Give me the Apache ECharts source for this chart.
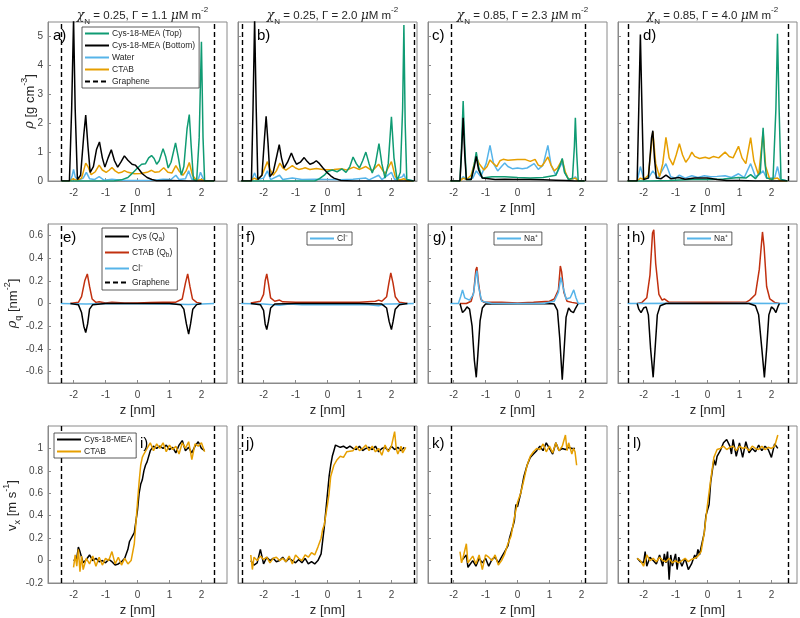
<!DOCTYPE html>
<html><head><meta charset="utf-8">
<script src="https://cdn.jsdelivr.net/npm/echarts@6/dist/echarts.min.js"></script>
<style>html,body{margin:0;padding:0;background:#fff}#c{width:800px;height:618px}</style>
</head><body><div id="c"></div>
<script>
// ---------- tick values ----------
const zTicks = [-2, -1, 0, 1, 2];
const rhoTicks = [0, 1, 2, 3, 4, 5];
const qTicks = [-0.6, -0.4, -0.2, 0, 0.2, 0.4, 0.6];
const vTicks = [-0.2, 0, 0.2, 0.4, 0.6, 0.8, 1];

// ---------- column titles ----------
const chiN = ['0.25', '0.25', '0.85', '0.85'];
const gammaVals = ['1.1', '2.0', '2.3', '4.0'];
const panelLetters = ['a)', 'b)', 'c)', 'd)', 'e)', 'f)', 'g)', 'h)', 'i)', 'j)', 'k)', 'l)'];
// graphene wall positions per column [left, right]
const graphene = [[-2.38, 2.40], [-2.68, 2.70], [-2.08, 2.11], [-2.48, 2.53]];

// ---------- row 1: mass density (g cm^-3) ----------
const aTop = [[-2.38,0],[-0.75,0],[-0.5,0.04],[-0.3,0.12],[-0.15,0.28],[0,0.45],[0.13,0.58],[0.25,0.6],[0.35,0.8],[0.44,0.88],[0.52,0.78],[0.6,0.58],[0.68,0.7],[0.8,1.12],[0.88,0.85],[0.96,0.45],[1.05,0.65],[1.19,1.32],[1.28,0.8],[1.37,0.2],[1.45,0.5],[1.55,1.8],[1.62,2.3],[1.68,1.2],[1.75,0.05],[1.85,0],[1.93,1.5],[2.0,4.82],[2.05,1.5],[2.1,0],[2.4,0]];
const aBottom = [[-2.38,0],[-2.13,0],[-2.06,2.5],[-2.0,5.6],[-1.95,2.5],[-1.88,0.05],[-1.78,0.2],[-1.68,1.6],[-1.62,2.28],[-1.55,1.2],[-1.48,0.3],[-1.38,0.5],[-1.28,1.1],[-1.19,1.35],[-1.1,0.8],[-1.02,0.48],[-0.92,0.8],[-0.82,1.08],[-0.72,0.7],[-0.62,0.48],[-0.52,0.65],[-0.41,0.87],[-0.3,0.72],[-0.17,0.58],[-0.07,0.55],[0.05,0.4],[0.15,0.25],[0.3,0.12],[0.45,0.05],[0.6,0.01],[1.0,0.02],[1.6,0],[2.4,0]];
const aWater = [[-2.38,0],[-2.1,0],[-2.04,0.2],[-2.0,0.4],[-1.95,0.15],[-1.85,0.02],[-1.7,0.1],[-1.6,0.3],[-1.5,0.08],[-1.35,0.05],[-1.2,0.15],[-1.05,0.03],[-0.8,0.06],[-0.5,0.03],[-0.2,0.02],[0.2,0.02],[0.5,0.03],[0.8,0.06],[1.05,0.05],[1.2,0.2],[1.3,0.05],[1.5,0.08],[1.6,0.35],[1.7,0.05],[1.9,0.05],[1.97,0.3],[2.02,0.33],[2.08,0.02],[2.4,0]];
const aCtab = [[-2.38,0],[-2.1,0],[-2.02,0.08],[-1.9,0.02],[-1.75,0.1],[-1.62,0.62],[-1.55,0.5],[-1.45,0.22],[-1.32,0.32],[-1.2,0.55],[-1.1,0.38],[-0.98,0.3],[-0.88,0.38],[-0.8,0.47],[-0.7,0.35],[-0.6,0.28],[-0.5,0.3],[-0.41,0.36],[-0.3,0.3],[-0.1,0.25],[0.1,0.26],[0.3,0.3],[0.44,0.37],[0.55,0.3],[0.68,0.32],[0.82,0.46],[0.95,0.3],[1.08,0.28],[1.2,0.53],[1.3,0.35],[1.42,0.2],[1.52,0.35],[1.62,0.64],[1.72,0.2],[1.85,0.02],[2.0,0.05],[2.1,0],[2.4,0]];

const bTop = [[-2.7,0],[-0.4,0],[-0.25,0.08],[-0.1,0.2],[0,0.33],[0.15,0.38],[0.3,0.32],[0.45,0.42],[0.58,0.3],[0.7,0.5],[0.8,0.83],[0.9,0.6],[1.0,0.45],[1.1,0.7],[1.2,1.0],[1.3,0.6],[1.4,0.28],[1.5,0.6],[1.61,1.29],[1.7,0.6],[1.8,0.1],[1.9,0.6],[2.0,2.22],[2.08,0.8],[2.18,0.02],[2.28,0.3],[2.35,2.5],[2.39,5.4],[2.43,2],[2.48,0.05],[2.7,0]];
const bBottom = [[-2.7,0],[-2.38,0],[-2.33,2.5],[-2.28,5.6],[-2.23,2.5],[-2.18,0.05],[-2.05,0.2],[-1.97,1.5],[-1.92,2.24],[-1.86,1.3],[-1.8,0.15],[-1.7,0.3],[-1.58,0.9],[-1.51,1.26],[-1.44,0.8],[-1.36,0.45],[-1.25,0.65],[-1.13,0.97],[-1.05,0.75],[-0.97,0.58],[-0.85,0.65],[-0.73,0.81],[-0.64,0.68],[-0.55,0.58],[-0.45,0.62],[-0.35,0.7],[-0.25,0.6],[-0.14,0.45],[0,0.28],[0.1,0.18],[0.2,0.1],[0.42,0.02],[0.8,0],[2.7,0]];
const bWater = [[-2.7,0],[-2.4,0],[-2.33,0.15],[-2.28,0.28],[-2.2,0.05],[-2.0,0.1],[-1.88,0.35],[-1.78,0.05],[-1.5,0.2],[-1.4,0.05],[-1.1,0.1],[-0.8,0.05],[-0.4,0.06],[0,0.05],[0.4,0.04],[0.8,0.06],[1.2,0.1],[1.3,0.04],[1.6,0.2],[1.7,0.05],[2.0,0.3],[2.1,0.05],[2.35,0.15],[2.39,0.25],[2.45,0.05],[2.7,0]];
const bCtab = [[-2.7,0],[-2.4,0],[-2.3,0.1],[-2.2,0.05],[-2.05,0.2],[-1.88,0.67],[-1.8,0.4],[-1.7,0.2],[-1.6,0.35],[-1.49,0.62],[-1.4,0.45],[-1.3,0.38],[-1.2,0.45],[-1.1,0.53],[-1.0,0.45],[-0.9,0.4],[-0.8,0.42],[-0.7,0.46],[-0.55,0.4],[-0.35,0.43],[-0.15,0.4],[0,0.39],[0.2,0.4],[0.45,0.42],[0.6,0.38],[0.82,0.48],[1.0,0.4],[1.2,0.5],[1.4,0.35],[1.6,0.58],[1.8,0.25],[2.0,0.67],[2.12,0.15],[2.25,0.03],[2.39,0.08],[2.5,0],[2.7,0]];

const cTop = [[-2.1,0],[-1.8,0],[-1.75,1.2],[-1.7,2.77],[-1.65,1.2],[-1.6,0.05],[-1.45,0.05],[-1.35,0.6],[-1.29,1.0],[-1.22,0.5],[-1.1,0.1],[-0.8,0.15],[-0.4,0.15],[0,0.12],[0.4,0.1],[0.8,0.12],[1.2,0.2],[1.35,0.6],[1.4,0.78],[1.47,0.3],[1.6,0.05],[1.72,0.1],[1.78,1.2],[1.81,2.19],[1.85,1],[1.9,0],[2.1,0]];
const cBottom = [[-2.1,0],[-1.8,0],[-1.75,1],[-1.7,2.19],[-1.65,0.9],[-1.6,0.05],[-1.45,0.05],[-1.35,0.5],[-1.29,0.85],[-1.22,0.4],[-1.1,0.1],[-0.9,0.08],[-0.7,0.05],[-0.4,0.06],[0,0.05],[0.4,0.05],[0.8,0.04],[1.2,0.03],[1.5,0.02],[1.8,0],[2.1,0]];
const cWater = [[-2.1,0],[-1.8,0],[-1.7,0.15],[-1.6,0.05],[-1.4,0.1],[-1.29,0.35],[-1.15,0.15],[-0.98,0.6],[-0.86,1.23],[-0.75,0.6],[-0.62,0.35],[-0.5,0.5],[-0.4,0.62],[-0.3,0.5],[-0.15,0.42],[0,0.45],[0.15,0.42],[0.3,0.45],[0.52,0.6],[0.65,0.4],[0.8,0.55],[0.95,1.23],[1.05,0.55],[1.2,0.2],[1.4,0.65],[1.48,0.3],[1.6,0.05],[1.72,0.05],[1.81,0.15],[1.9,0],[2.1,0]];
const cCtab = [[-2.1,0],[-1.8,0],[-1.7,0.1],[-1.6,0.05],[-1.45,0.2],[-1.29,0.85],[-1.2,0.6],[-1.05,0.38],[-0.95,0.5],[-0.86,0.73],[-0.75,0.6],[-0.65,0.5],[-0.55,0.7],[-0.45,0.75],[-0.3,0.72],[0,0.74],[0.25,0.74],[0.4,0.68],[0.55,0.75],[0.65,0.55],[0.75,0.5],[0.85,0.65],[0.95,0.83],[1.05,0.55],[1.15,0.35],[1.25,0.45],[1.4,0.75],[1.5,0.3],[1.6,0.05],[1.81,0.1],[1.9,0],[2.1,0]];

const dTop = [[-2.5,0],[-1.8,0],[-1.2,0.02],[-0.5,0.05],[0,0.05],[0.5,0.07],[0.97,0.12],[1.2,0.1],[1.35,0.22],[1.5,0.08],[1.65,0.3],[1.74,1.84],[1.79,0.7],[1.85,0.1],[2.05,0.05],[2.14,2.5],[2.19,5.09],[2.24,2.5],[2.3,0.05],[2.5,0]];
const dBottom = [[-2.5,0],[-2.2,0],[-2.15,2.5],[-2.1,5.07],[-2.05,2.5],[-2.0,0.05],[-1.85,0.1],[-1.75,1.5],[-1.71,1.74],[-1.66,0.8],[-1.6,0.1],[-1.45,0.08],[-1.3,0.2],[-1.15,0.08],[-0.9,0.12],[-0.7,0.06],[-0.4,0.1],[0,0.1],[0.3,0.05],[0.6,0.02],[1.0,0.02],[1.5,0],[2.5,0]];
const dWater = [[-2.5,0],[-2.2,0],[-2.1,0.5],[-2.0,0.1],[-1.85,0.1],[-1.71,0.35],[-1.55,0.1],[-1.3,0.6],[-1.15,0.15],[-1.0,0.1],[-0.88,0.2],[-0.7,0.1],[-0.49,0.18],[-0.3,0.12],[-0.1,0.18],[0.1,0.15],[0.3,0.16],[0.55,0.18],[0.75,0.12],[0.97,0.25],[1.15,0.12],[1.35,0.6],[1.5,0.15],[1.65,0.25],[1.74,0.35],[1.85,0.1],[2.1,0.1],[2.19,0.5],[2.28,0.05],[2.5,0]];
const dCtab = [[-2.5,0],[-2.2,0],[-2.1,0.1],[-2.0,0.05],[-1.85,0.2],[-1.71,1.7],[-1.62,0.6],[-1.5,0.15],[-1.4,0.6],[-1.3,1.51],[-1.2,0.8],[-1.08,0.55],[-0.98,0.9],[-0.88,1.29],[-0.78,0.9],[-0.68,0.65],[-0.58,0.8],[-0.49,1.0],[-0.4,0.85],[-0.25,0.78],[-0.07,0.82],[0.05,0.78],[0.19,0.85],[0.35,0.8],[0.55,1.0],[0.68,0.85],[0.8,0.8],[0.97,1.2],[1.08,0.8],[1.2,0.6],[1.35,1.5],[1.45,0.7],[1.6,0.2],[1.74,1.7],[1.82,0.5],[1.95,0.05],[2.19,0.1],[2.3,0],[2.5,0]];

// ---------- row 2: charge density (nm^-2) ----------
const eCys = [[-2.1,0],[-1.85,-0.01],[-1.75,-0.08],[-1.68,-0.2],[-1.62,-0.255],[-1.56,-0.18],[-1.5,-0.05],[-1.4,-0.01],[-1.0,0],[1.0,0],[1.35,-0.01],[1.45,-0.05],[1.53,-0.18],[1.6,-0.27],[1.66,-0.18],[1.73,-0.05],[1.85,-0.01],[2.0,0]];
const eCtab = [[-2.1,0],[-1.85,0.01],[-1.75,0.06],[-1.65,0.2],[-1.57,0.26],[-1.5,0.15],[-1.42,0.04],[-1.3,0.01],[-1.2,0.015],[-1.0,0.005],[-0.8,0.012],[-0.4,0.005],[0,0.005],[0.4,0.008],[0.8,0.01],[1.2,0.012],[1.4,0.04],[1.5,0.18],[1.57,0.26],[1.64,0.15],[1.72,0.04],[1.85,0.01],[2.0,0]];
const eIon = [[-2.4,0],[-1.6,-0.005],[-1,0],[0,-0.003],[1.0,-0.004],[1.6,-0.008],[2.4,0]];

const fCys = [[-2.4,0],[-2.1,-0.01],[-2.0,-0.06],[-1.95,-0.18],[-1.9,-0.23],[-1.85,-0.16],[-1.78,-0.04],[-1.65,-0.005],[-1.0,0],[1.0,0],[1.7,-0.005],[1.85,-0.04],[1.93,-0.16],[2.0,-0.23],[2.05,-0.16],[2.12,-0.05],[2.25,-0.01],[2.5,0]];
const fCtab = [[-2.4,0.005],[-2.1,0.02],[-2.0,0.08],[-1.95,0.2],[-1.9,0.26],[-1.85,0.18],[-1.78,0.05],[-1.65,0.02],[-1.5,0.03],[-1.4,0.015],[-1.0,0.01],[-0.5,0.01],[0,0.01],[0.5,0.012],[1.0,0.01],[1.5,0.02],[1.6,0.03],[1.7,0.02],[1.85,0.06],[1.92,0.18],[1.98,0.27],[2.05,0.18],[2.12,0.06],[2.25,0.01],[2.5,0]];
const fIon = [[-2.7,0],[-2.0,-0.005],[-1.7,-0.01],[-1.5,-0.015],[-1.2,-0.005],[-0.8,-0.01],[-0.4,-0.01],[0,-0.008],[0.4,-0.01],[0.8,-0.01],[1.2,-0.008],[1.6,-0.02],[1.8,-0.005],[2.0,-0.005],[2.7,0]];

const gCys = [[-1.8,0],[-1.75,-0.05],[-1.72,-0.08],[-1.65,-0.06],[-1.58,-0.03],[-1.5,-0.05],[-1.42,-0.2],[-1.35,-0.5],[-1.29,-0.65],[-1.24,-0.45],[-1.17,-0.15],[-1.1,-0.04],[-1.0,-0.005],[1.0,0],[1.15,-0.005],[1.25,-0.06],[1.32,-0.3],[1.4,-0.67],[1.46,-0.4],[1.52,-0.12],[1.6,-0.04],[1.68,-0.07],[1.75,-0.08],[1.82,-0.04],[1.9,0]];
const gCtab = [[-1.8,0],[-1.6,0],[-1.45,0.02],[-1.37,0.1],[-1.3,0.3],[-1.27,0.32],[-1.22,0.18],[-1.15,0.04],[-1.05,0.01],[-0.5,0.01],[0,0.005],[0.5,0.012],[1.0,0.02],[1.15,0.04],[1.28,0.12],[1.34,0.33],[1.38,0.28],[1.45,0.1],[1.55,0.02],[1.7,0.01],[1.9,0]];
const gIon = [[-2.1,0],[-1.85,0],[-1.78,0.06],[-1.72,0.12],[-1.65,0.05],[-1.5,0.03],[-1.38,0.08],[-1.3,0.25],[-1.27,0.29],[-1.22,0.15],[-1.12,0.02],[-0.8,0],[0.8,0],[1.15,0.02],[1.28,0.1],[1.36,0.23],[1.42,0.15],[1.52,0.04],[1.65,0.05],[1.76,0.12],[1.83,0.05],[1.9,0],[2.1,0]];

const hCys = [[-2.2,0],[-2.15,-0.05],[-2.08,-0.08],[-2.0,-0.04],[-1.92,-0.03],[-1.85,-0.1],[-1.78,-0.4],[-1.7,-0.65],[-1.64,-0.4],[-1.57,-0.1],[-1.48,-0.02],[-1.3,0],[1.3,0],[1.5,-0.02],[1.6,-0.1],[1.7,-0.4],[1.78,-0.65],[1.85,-0.4],[1.92,-0.1],[2.0,-0.03],[2.08,-0.05],[2.14,-0.08],[2.2,-0.03],[2.25,0]];
const hCtab = [[-2.2,0],[-2.05,0.01],[-1.9,0.05],[-1.8,0.25],[-1.72,0.62],[-1.68,0.65],[-1.62,0.35],[-1.52,0.08],[-1.42,0.03],[-1.35,0.04],[-1.2,0.01],[-0.8,0.012],[-0.4,0.01],[0,0.01],[0.4,0.012],[0.8,0.01],[1.2,0.01],[1.32,0.03],[1.5,0.08],[1.62,0.3],[1.72,0.63],[1.77,0.5],[1.85,0.15],[1.95,0.04],[2.1,0.01],[2.25,0]];
const hIon = [[-2.5,0],[-1.0,0.002],[0,0],[1.0,0.002],[2.5,0]];

// ---------- row 3: velocity (m s^-1) ----------
const iCys = [[-2.0,0],[-1.9,0.02],[-1.85,0.12],[-1.8,0.08],[-1.7,-0.02],[-1.6,0.01],[-1.5,0.05],[-1.4,0.0],[-1.3,0.02],[-1.2,-0.01],[-1.1,0.0],[-1.0,-0.02],[-0.9,0.01],[-0.8,-0.01],[-0.7,-0.04],[-0.6,-0.03],[-0.5,-0.01],[-0.4,0.02],[-0.3,0.1],[-0.25,0.17],[-0.2,0.18],[-0.1,0.25],[0,0.45],[0.05,0.6],[0.1,0.68],[0.15,0.72],[0.2,0.8],[0.25,0.85],[0.3,0.88],[0.4,0.98],[0.5,1.02],[0.6,1.0],[0.7,1.02],[0.8,1.0],[0.9,1.03],[1.0,0.99],[1.1,1.01],[1.2,0.96],[1.3,1.03],[1.4,1.07],[1.5,0.98],[1.6,1.01],[1.7,0.96],[1.8,1.02],[1.9,1.06],[2.0,1.0],[2.1,0.98]];
const iCtab = [[-2.0,-0.06],[-1.95,0.05],[-1.9,-0.05],[-1.85,0.1],[-1.8,-0.1],[-1.75,0.04],[-1.7,-0.08],[-1.6,0.02],[-1.5,-0.03],[-1.4,0.04],[-1.3,-0.05],[-1.2,0.03],[-1.1,-0.04],[-1.0,0.02],[-0.9,0.0],[-0.8,0.08],[-0.7,-0.03],[-0.6,0.03],[-0.5,-0.04],[-0.4,0.02],[-0.3,-0.03],[-0.2,0.0],[-0.1,0.15],[0,0.52],[0.05,0.7],[0.1,0.85],[0.15,0.92],[0.2,0.95],[0.3,1.0],[0.4,1.05],[0.5,0.98],[0.6,1.04],[0.7,1.0],[0.8,1.05],[0.9,0.97],[1.0,1.03],[1.1,0.99],[1.2,1.02],[1.3,0.95],[1.4,1.05],[1.5,1.0],[1.6,1.06],[1.7,0.9],[1.8,1.04],[1.9,1.02],[2.0,1.05],[2.1,0.97]];

const jCys = [[-2.4,0],[-2.3,-0.04],[-2.2,-0.02],[-2.1,0.1],[-2.0,-0.03],[-1.9,0.03],[-1.8,0.0],[-1.7,0.02],[-1.6,-0.01],[-1.5,0.0],[-1.4,0.03],[-1.3,-0.01],[-1.2,0.02],[-1.1,0.0],[-1.0,-0.02],[-0.9,0.01],[-0.8,-0.02],[-0.7,0.02],[-0.6,-0.03],[-0.5,-0.01],[-0.4,-0.03],[-0.3,0.0],[-0.2,0.06],[-0.1,0.3],[-0.05,0.45],[0,0.6],[0.05,0.75],[0.1,0.85],[0.15,0.93],[0.2,0.98],[0.25,1.03],[0.3,1.02],[0.4,1.01],[0.5,1.02],[0.6,1.0],[0.7,1.02],[0.8,1.0],[0.9,0.99],[1.0,1.02],[1.1,0.98],[1.2,1.0],[1.3,1.01],[1.4,0.99],[1.5,1.02],[1.6,0.97],[1.7,1.0],[1.8,1.01],[1.9,0.98],[2.0,1.02],[2.1,0.99],[2.2,1.01],[2.3,0.98],[2.4,1.01]];
const jCtab = [[-2.4,0.05],[-2.35,-0.08],[-2.3,0.03],[-2.2,0.0],[-2.1,0.04],[-2.0,0.01],[-1.9,0.03],[-1.8,-0.02],[-1.7,0.02],[-1.6,0.03],[-1.5,0.0],[-1.4,0.02],[-1.3,-0.01],[-1.2,0.04],[-1.1,-0.03],[-1.0,0.05],[-0.9,0.02],[-0.8,0.0],[-0.7,0.05],[-0.6,0.03],[-0.5,0.07],[-0.4,0.05],[-0.3,0.12],[-0.2,0.2],[-0.15,0.28],[-0.1,0.32],[0,0.5],[0.05,0.6],[0.1,0.75],[0.2,0.85],[0.3,0.9],[0.4,0.93],[0.5,0.92],[0.6,0.97],[0.8,0.98],[0.9,1.02],[1.0,0.98],[1.1,1.0],[1.2,1.03],[1.3,0.98],[1.4,1.02],[1.5,0.97],[1.6,1.0],[1.7,0.94],[1.8,1.03],[1.9,0.97],[2.0,1.02],[2.1,1.15],[2.15,1.0],[2.2,0.95],[2.3,1.02],[2.35,0.96],[2.45,1.01]];

const kCys = [[-1.75,0.0],[-1.7,-0.01],[-1.6,0.05],[-1.55,-0.06],[-1.5,-0.04],[-1.4,0.0],[-1.3,-0.05],[-1.2,0.02],[-1.1,-0.02],[-1.0,0.02],[-0.9,-0.05],[-0.8,0.01],[-0.7,0.03],[-0.6,-0.02],[-0.5,0.03],[-0.4,0.08],[-0.3,0.13],[-0.25,0.2],[-0.2,0.25],[-0.1,0.35],[-0.05,0.5],[0,0.48],[0.1,0.6],[0.2,0.75],[0.3,0.85],[0.4,0.92],[0.5,0.95],[0.6,0.98],[0.7,1.02],[0.8,0.98],[0.9,1.05],[1.0,1.0],[1.1,0.95],[1.2,1.05],[1.3,0.98],[1.4,1.0],[1.5,0.99],[1.6,1.01],[1.7,1.0],[1.8,1.0]];
const kCtab = [[-1.8,0.08],[-1.75,-0.02],[-1.7,0.03],[-1.6,0.15],[-1.55,-0.02],[-1.5,0.0],[-1.4,0.04],[-1.3,-0.03],[-1.2,0.05],[-1.1,-0.08],[-1.0,0.05],[-0.9,0.03],[-0.8,0.0],[-0.7,0.05],[-0.6,-0.04],[-0.5,0.0],[-0.4,0.06],[-0.3,0.15],[-0.2,0.22],[-0.1,0.38],[0,0.52],[0.1,0.6],[0.2,0.72],[0.3,0.85],[0.4,0.93],[0.5,0.97],[0.6,1.0],[0.7,0.99],[0.8,1.04],[0.9,0.97],[1.0,1.02],[1.1,0.96],[1.2,1.05],[1.3,0.98],[1.4,1.02],[1.5,1.12],[1.55,0.98],[1.6,1.05],[1.7,0.95],[1.75,1.0],[1.8,0.97],[1.85,0.85]];

const lCys = [[-2.2,0.02],[-2.1,-0.01],[-2.0,-0.02],[-1.95,0.08],[-1.9,-0.05],[-1.8,0.03],[-1.7,0.0],[-1.6,-0.03],[-1.5,0.05],[-1.4,-0.05],[-1.35,0.06],[-1.3,-0.02],[-1.25,0.08],[-1.2,-0.17],[-1.15,0.05],[-1.1,-0.05],[-1.0,0.06],[-0.95,-0.08],[-0.9,0.03],[-0.8,-0.05],[-0.7,0.02],[-0.6,-0.08],[-0.5,-0.03],[-0.4,0.05],[-0.35,0.02],[-0.3,0.1],[-0.25,0.05],[-0.2,0.12],[-0.1,0.25],[-0.05,0.4],[0,0.45],[0.05,0.5],[0.1,0.7],[0.15,0.8],[0.2,0.9],[0.25,0.85],[0.3,0.93],[0.4,0.98],[0.5,1.05],[0.6,1.08],[0.7,1.02],[0.75,0.95],[0.8,1.08],[0.9,0.93],[1.0,1.05],[1.1,0.92],[1.2,1.06],[1.3,0.96],[1.4,1.0],[1.5,0.97],[1.6,1.03],[1.7,0.98],[1.8,1.02],[1.9,0.99],[2.0,0.92],[2.1,1.04],[2.2,1.0]];
const lCtab = [[-2.2,0.02],[-2.1,0.0],[-2.0,-0.05],[-1.9,0.05],[-1.8,0.0],[-1.7,0.02],[-1.6,-0.01],[-1.5,0.03],[-1.4,0.0],[-1.3,-0.01],[-1.2,0.02],[-1.1,-0.02],[-1.0,0.0],[-0.9,-0.02],[-0.8,0.0],[-0.7,0.02],[-0.6,-0.01],[-0.5,0.01],[-0.4,0.02],[-0.3,0.04],[-0.2,0.08],[-0.1,0.25],[0,0.5],[0.1,0.72],[0.2,0.92],[0.3,0.99],[0.4,1.0],[0.5,1.02],[0.6,0.99],[0.7,1.01],[0.8,1.02],[0.9,0.98],[1.0,1.02],[1.1,1.0],[1.2,1.01],[1.3,0.98],[1.4,1.02],[1.5,1.0],[1.6,0.99],[1.7,1.02],[1.8,0.99],[1.9,1.01],[2.0,1.0],[2.1,1.02],[2.2,1.12]];

// ---------- styling ----------
const FONT = 'Liberation Sans, Arial, sans-serif';
const C = {green:'#0f9b73', black:'#000000', blue:'#56B4E9', orange:'#E69F00', red:'#C1300F'};
const LEFTS = [48, 238, 428, 618], TOPS = [22, 224, 426], W = 179, H = 159;
const YRANGE = [[0, 5.5], [-0.7, 0.7], [-0.2, 1.2]];
const YTICKS = [rhoTicks, qTicks, vTicks];
const YNAMES = ['{i|ρ} [g cm{sup|-3}]', '{i|ρ}{sub|q} [nm{sup|-2}]', 'v{sub|x} [m s{sup|-1}]'];
const YNAME_X = [30, 13, 12];
const AX = '#8a8a8a';
const richBase = {
  i:{fontStyle:'italic', fontSize:13, fontFamily:'DejaVu Serif, serif', fill:'#262626', color:'#262626'},
  sub:{fontSize:9, verticalAlign:'bottom', lineHeight:20, fill:'#262626', color:'#262626', fontFamily:FONT},
  sup:{fontSize:9, verticalAlign:'top', lineHeight:20, fill:'#262626', color:'#262626', fontFamily:FONT}
};

const grids = [], xAxes = [], yAxes = [], series = [], titles = [], graphics = [];
for (let r = 0; r < 3; r++) {
  for (let c = 0; c < 4; c++) {
    const gi = r * 4 + c;
    grids.push({left: LEFTS[c], top: TOPS[r], width: W, height: H, show: true, borderColor: AX, borderWidth: 1, backgroundColor: '#fff'});
    xAxes.push({type:'value', gridIndex: gi, min: -2.8, max: 2.8,
      name: 'z [nm]', nameLocation: 'middle', nameGap: 21,
      nameTextStyle: {fontSize: 13, color: '#262626', fontFamily: FONT},
      axisLine: {show: true, onZero: false, lineStyle: {color: AX}},
      axisTick: {show: true, inside: true, length: 3, customValues: zTicks, lineStyle: {color: AX}},
      axisLabel: {show: true, customValues: zTicks, fontSize: 10, color: '#444', margin: 7, fontFamily: FONT},
      splitLine: {show: false}});
    yAxes.push({type:'value', gridIndex: gi, min: YRANGE[r][0], max: YRANGE[r][1],
      axisLine: {show: true, onZero: false, lineStyle: {color: AX}},
      axisTick: {show: true, inside: true, length: 3, customValues: YTICKS[r], lineStyle: {color: AX}},
      axisLabel: {show: c === 0, customValues: YTICKS[r], fontSize: 10, color: '#444', margin: 5, fontFamily: FONT},
      splitLine: {show: false}});
    // graphene walls
    series.push({type:'line', name:'Graphene', data: [], xAxisIndex: gi, yAxisIndex: gi,
      symbol:'none', lineStyle:{color:'#000', width:1.4, type:[5,3]}, itemStyle:{color:'#000'},
      markLine:{silent:true, symbol:['none','none'], label:{show:false},
        lineStyle:{color:'#000', width:1.4, type:[5,3]},
        data: graphene[c].map(v => ({xAxis: v}))}});
  }
  // y-axis title for the row (rotated text)
  graphics.push({type:'text', x: YNAME_X[r], y: TOPS[r] + H / 2, rotation: Math.PI / 2, z: 100,
    style:{text: YNAMES[r], align:'center', verticalAlign:'middle', fill:'#262626', font: '13px ' + FONT, rich: richBase}});
}
function line(name, data, color, gi, z) {
  series.push({type:'line', name, data, xAxisIndex: gi, yAxisIndex: gi, symbol:'none', showSymbol:false,
    lineStyle:{color, width:1.5}, itemStyle:{color}, clip:true, z: z || 2});
}
// row 1
const row1 = [[aTop, aBottom, aWater, aCtab], [bTop, bBottom, bWater, bCtab], [cTop, cBottom, cWater, cCtab], [dTop, dBottom, dWater, dCtab]];
row1.forEach((s, c) => {
  line('Cys-18-MEA (Top)', s[0], C.green, c, 3);
  line('Cys-18-MEA (Bottom)', s[1], C.black, c, 4);
  line('Water', s[2], C.blue, c, 2);
  line('CTAB', s[3], C.orange, c, 2);
});
// row 2
const ionNames = ['Cl⁻', 'Cl⁻', 'Na⁺', 'Na⁺'];
const row2 = [[eCys, eCtab, eIon], [fCys, fCtab, fIon], [gCys, gCtab, gIon], [hCys, hCtab, hIon]];
row2.forEach((s, c) => {
  line('Cys (Qa)', s[0], C.black, 4 + c, 3);
  line('CTAB (Qb)', s[1], C.red, 4 + c, 2);
  line(ionNames[c], s[2], C.blue, 4 + c, c === 2 ? 4 : 2);
});
// row 3
const row3 = [[iCys, iCtab], [jCys, jCtab], [kCys, kCtab], [lCys, lCtab]];
row3.forEach((s, c) => {
  line('Cys-18-MEA', s[0], C.black, 8 + c, 2);
  line('CTAB', s[1], C.orange, 8 + c, 3);
});

// titles
for (let c = 0; c < 4; c++) {
  titles.push({text: '{i|χ}{sub|N} = ' + chiN[c] + ', Γ = ' + gammaVals[c] + ' {i|μ}M m{sup|-2}',
    left: LEFTS[c] + W / 2, top: 1, textAlign: 'center',
    textStyle: {fontSize: 11.5, fontWeight: 'normal', color: '#262626', fontFamily: FONT,
      rich: {i:{fontStyle:'italic', fontSize:12.5, fontFamily:'DejaVu Serif, serif', color:'#262626'},
        sub:{fontSize:8, verticalAlign:'bottom', lineHeight:20, color:'#262626', fontFamily:FONT},
        sup:{fontSize:8, verticalAlign:'top', lineHeight:20, color:'#262626', fontFamily:FONT}}}});
}
// panel letters
const letterOffsets = [[5,6],[19,6],[4,6],[25,6],[15,6],[8,6],[5,6],[14,6],[92,10],[8,10],[4,10],[15,10]];
panelLetters.forEach((t, k) => {
  const r = Math.floor(k / 4), c = k % 4;
  graphics.push({type:'text', left: LEFTS[c] + letterOffsets[k][0], top: TOPS[r] + letterOffsets[k][1], z: 100,
    style:{text: t, fontSize: 15, fill: '#000', font: '15px ' + FONT}});
});

const legBase = {orient:'vertical', backgroundColor:'#fff', borderColor:'#333', borderWidth:0.8, borderRadius:0,
  itemWidth: 24, itemHeight: 8, itemGap: 3, padding:[2,4,2,2], z: 50,
  itemStyle: {opacity: 0},
  textStyle:{fontSize:8.5, color:'#262626', fontFamily: FONT, padding:[0,0,0,-2],
    rich:{n:{fontSize:8.5, color:'#262626', fontFamily:FONT}, s:{fontSize:6.5, color:'#262626', verticalAlign:'bottom', lineHeight:13, fontFamily:FONT}}},
  selectedMode: false};
function fmt(name) {
  if (name === 'Cys (Qa)') return '{n|Cys (Q}{s|a}{n|)}';
  if (name === 'CTAB (Qb)') return '{n|CTAB (Q}{s|b}{n|)}';
  return name;
}
const legends = [
  Object.assign({}, legBase, {left: 82, top: 27, data: ['Cys-18-MEA (Top)', 'Cys-18-MEA (Bottom)', 'Water', 'CTAB', 'Graphene']}),
  Object.assign({}, legBase, {left: 102, top: 228, itemGap: 5, padding:[4,5,3,2], data: ['Cys (Qa)', 'CTAB (Qb)', 'Cl⁻', 'Graphene'], formatter: fmt}),
  Object.assign({}, legBase, {left: 307, top: 232, data: ['Cl⁻']}),
  Object.assign({}, legBase, {left: 494, top: 232, data: ['Na⁺']}),
  Object.assign({}, legBase, {left: 684, top: 232, data: ['Na⁺']}),
  Object.assign({}, legBase, {left: 54, top: 433, data: ['Cys-18-MEA', 'CTAB']})
];

const chart = echarts.init(document.getElementById('c'), null, {renderer: 'canvas'});
chart.setOption({animation: false, backgroundColor: '#fff', title: titles, grid: grids, xAxis: xAxes, yAxis: yAxes,
  legend: legends, series, graphic: graphics});
</script></body></html>
